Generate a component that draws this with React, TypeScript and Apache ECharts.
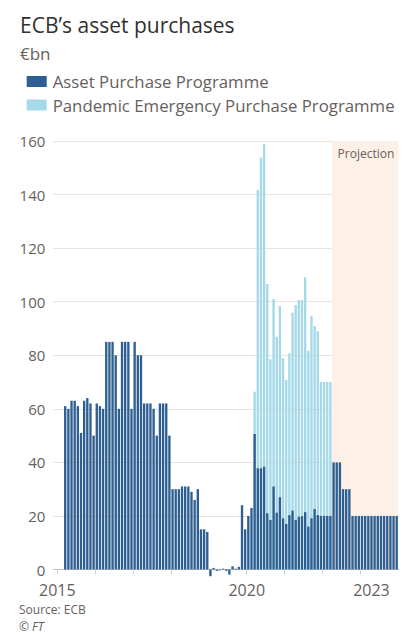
import React, { useEffect, useRef } from "react";
import * as echarts from "echarts";

// ---- data (€bn, monthly net purchases) ----
const firstYear = 2015;
const lastYear = 2023;
const yearLabels = ["2015", "2020", "2023"];

// Asset Purchase Programme, Mar 2015 – Dec 2023 (from Apr 2022: projection)
const appStart = "2015-03";
const appValues = [
  // 2015 (Mar–Dec)
  61, 60, 63, 63, 61, 51, 63, 64, 62, 50,
  // 2016
  62, 61, 60, 85, 85, 85, 80, 60, 85, 85, 85, 60,
  // 2017
  85, 80, 80, 62, 62, 62, 60, 50, 62, 62, 62, 50,
  // 2018
  30, 30, 30, 31, 31, 31, 29, 26, 30, 15, 15, 14,
  // 2019
  -2.5, 0.6, -0.5, -0.3, 0.3, -0.5, -1.9, 1.2, 0.3, 1, 24, 15,
  // 2020
  20, 23, 50.6, 37.8, 37.8, 38.4, 21, 18.5, 31, 21.2, 27, 19.1,
  // 2021
  17, 20.3, 22, 18.5, 19.7, 19.9, 21.4, 16, 19.1, 22.6, 20.3, 20,
  // 2022
  20, 20, 20, 40, 40, 40, 30, 30, 30, 20, 20, 20,
  // 2023
  20, 20, 20, 20, 20, 20, 20, 20, 20, 20, 20, 20,
];

// Pandemic Emergency Purchase Programme, Mar 2020 – Mar 2022
const peppStart = "2020-03";
const peppValues = [
  15.8, 103.9, 116, 120.4, 85.6, 60, 70, 65.7, 71.4, 59.8,
  53.8, 60.4, 73.9, 80.3, 80.9, 80.7, 87.7, 65.7, 75.6, 68.3, 68.7, 50,
  50, 50, 50,
];

const projectionStart = "2022-04";
const projectionLabel = "Projection";

const seriesNames = ["Asset Purchase Programme", "Pandemic Emergency Purchase Programme"];
const colors = ["#2e5f92", "#a5d8e8"];

// ---- helpers ----
const monthIndex = (ym: string) => {
  const [y, m] = ym.split("-").map(Number);
  return (y - firstYear) * 12 + (m - 1);
};
const totalMonths = (lastYear - firstYear + 1) * 12;

const FONT = "'Open Sans', 'Noto Sans', sans-serif";
const GREY = "#66605c";

export default function App() {
  const ref = useRef<HTMLDivElement>(null);

  useEffect(() => {
    if (!ref.current) return;
    const chart = echarts.init(ref.current, undefined, { renderer: "svg" });

    const a0 = monthIndex(appStart);
    const p0 = monthIndex(peppStart);
    const appData = appValues.map((v, k) => [a0 + k + 0.5, v]);
    // PEPP stacked on top of APP: bar drawn from 0 to APP + PEPP, behind APP
    const stackedPepp = peppValues.map((v, k) => {
      const idx = p0 + k - a0;
      return [p0 + k + 0.5, appValues[idx] + v];
    });

    const yearTicks: number[] = [];
    for (let y = firstYear; y <= lastYear; y++) yearTicks.push((y - firstYear) * 12);
    const labelPos = yearLabels.map((l) =>
      l === "2023" ? (Number(l) - firstYear) * 12 + 3.5 : (Number(l) - firstYear) * 12
    );

    const projStart = monthIndex(projectionStart);

    chart.setOption({
      animation: false,
      textStyle: { fontFamily: FONT },
      grid: { left: 53.3, right: 10.7, top: 141, bottom: 65.5 },
      legend: {
        orient: "vertical",
        left: 21.7,
        top: 68,
        itemWidth: 20,
        itemHeight: 11,
        itemGap: 6.5,
        icon: "rect",
        data: seriesNames,
        textStyle: { fontSize: 16.8, lineHeight: 17, color: GREY, fontFamily: FONT, padding: [0, 0, 0, 1] },
        selectedMode: false,
      },
      graphic: [
        {
          type: "text",
          x: 20,
          y: 24.5,
          style: {
            text: "ECB’s asset purchases",
            fontSize: 21,
            fontFamily: FONT,
            fill: "#33302e",
            verticalAlign: "middle",
          },
        },
        {
          type: "text",
          x: 20,
          y: 53.5,
          style: { text: "€bn", fontSize: 17, fontFamily: FONT, fill: GREY, verticalAlign: "middle" },
        },
        {
          type: "text",
          x: 19,
          y: 609,
          style: {
            text: "Source: ECB",
            fontSize: 12,
            lineHeight: 12,
            fontFamily: FONT,
            fill: GREY,
            verticalAlign: "middle",
          },
        },
        {
          type: "text",
          x: 19,
          y: 626.5,
          style: {
            text: "© {i|FT}",
            fontSize: 12,
            lineHeight: 12,
            fontFamily: FONT,
            fill: GREY,
            verticalAlign: "middle",
            rich: {
              i: { fontStyle: "italic", fontSize: 12, lineHeight: 12, fontFamily: FONT, fill: GREY },
            },
          },
        },
      ],
      xAxis: {
        type: "value",
        min: -1.27,
        max: totalMonths,
        splitLine: { show: false },
        axisLine: { show: true, lineStyle: { color: "#c8c2bc", width: 1 } },
        axisTick: {
          show: true,
          length: 5,
          customValues: yearTicks,
          lineStyle: { color: "#d6d0ca" },
        },
        axisLabel: {
          customValues: labelPos,
          formatter: (v: number) => String(firstYear + Math.floor(v / 12)),
          fontSize: 16,
          color: GREY,
          margin: 12,
          fontFamily: FONT,
        },
      },
      yAxis: {
        type: "value",
        min: 0,
        max: 160,
        interval: 20,
        axisLine: { show: false },
        axisTick: { show: false },
        splitLine: { lineStyle: { color: "#e8e3dd", width: 1 } },
        axisLabel: { fontSize: 15, color: GREY, margin: 8, fontFamily: FONT },
      },
      series: [
        {
          type: "custom",
          name: "projection",
          silent: true,
          z: 0,
          data: [[projStart, totalMonths]],
          renderItem: (params: any, api: any) => {
            const tl = api.coord([api.value(0), 160]);
            const br = api.coord([api.value(1), 0]);
            return {
              type: "group",
              children: [
                {
                  type: "rect",
                  shape: { x: tl[0], y: tl[1], width: br[0] - tl[0], height: br[1] - tl[1] },
                  style: { fill: "#fdf1e7" },
                },
                {
                  type: "text",
                  x: br[0] - 4,
                  y: tl[1] + 12,
                  style: {
                    text: projectionLabel,
                    fontSize: 12,
                    fontFamily: FONT,
                    fill: GREY,
                    align: "right",
                    verticalAlign: "middle",
                  },
                },
              ],
            };
          },
        },
        {
          type: "bar",
          name: seriesNames[1],
          data: stackedPepp,
          barWidth: 2.35,
          barGap: "-100%",
          clip: false,
          itemStyle: { color: colors[1] },
          z: 2,
        },
        {
          type: "bar",
          name: seriesNames[0],
          data: appData,
          barWidth: 2.35,
          barGap: "-100%",
          clip: false,
          itemStyle: { color: colors[0] },
          z: 3,
        },
      ],
    });

    return () => chart.dispose();
  }, []);

  return (
    <div
      ref={ref}
      style={{ position: "fixed", left: 0, top: 0, width: 409, height: 635, background: "#fff" }}
    />
  );
}
